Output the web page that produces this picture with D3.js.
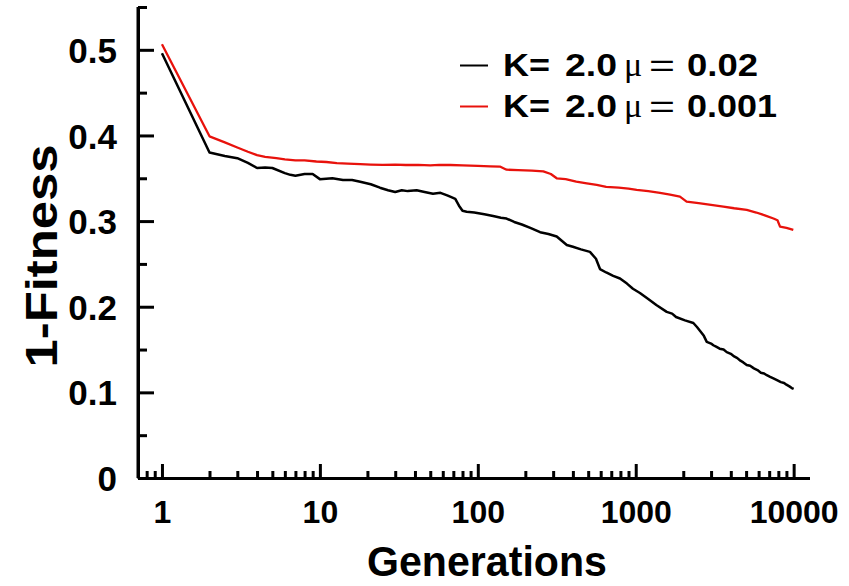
<!DOCTYPE html>
<html>
<head>
<meta charset="utf-8">
<script src="https://cdn.jsdelivr.net/npm/d3@7"></script>
<style>
  html, body { margin: 0; padding: 0; background: #fff; }
  svg { display: block; }
  text { font-family: "Liberation Sans", Arial, Helvetica, sans-serif; font-weight: bold; fill: #000; }
</style>
</head>
<body>
<svg id="chart" width="849" height="586"></svg>
<script>
// ---- data ----
const xMajorTicks = [1, 10, 100, 1000, 10000];
const yMajorTicks = [0, 0.1, 0.2, 0.3, 0.4, 0.5];
const yTickLabels = ["0", "0.1", "0.2", "0.3", "0.4", "0.5"];
const xTickLabels = ["1", "10", "100", "1000", "10000"];

const blackGen = [1, 2, 2.5, 3, 3.5, 4, 4.5, 5, 6, 6.5, 7, 8, 9, 10, 12, 14, 16, 18, 21, 24, 27, 30, 33, 36, 41, 46, 52, 58, 64, 68, 72, 76, 80, 85, 95, 110, 125, 140, 152, 170, 190, 215, 248, 280, 316, 340, 366, 400, 450, 513, 560, 594, 650, 720, 795, 880, 960, 1063, 1200, 1350, 1571, 1700, 1800, 2050, 2317, 2450, 2550, 2700, 2817, 3000, 3100, 3250, 3400, 3600, 3770, 4000, 4200, 4400, 4600, 4800, 5046, 5300, 5600, 5900, 6200, 6500, 6760, 7100, 7500, 7900, 8300, 8700, 9000, 9400, 9730, 10000];
const blackVal = [0.496, 0.380, 0.376, 0.3735, 0.368, 0.362, 0.3625, 0.362, 0.356, 0.354, 0.353, 0.355, 0.355, 0.349, 0.350, 0.348, 0.348, 0.346, 0.343, 0.339, 0.336, 0.334, 0.336, 0.335, 0.336, 0.334, 0.332, 0.333, 0.330, 0.328, 0.326, 0.318, 0.312, 0.311, 0.310, 0.308, 0.306, 0.304, 0.303, 0.299, 0.296, 0.292, 0.287, 0.285, 0.282, 0.277, 0.272, 0.270, 0.267, 0.264, 0.256, 0.244, 0.240, 0.236, 0.233, 0.227, 0.221, 0.216, 0.209, 0.202, 0.194, 0.192, 0.188, 0.184, 0.181, 0.176, 0.172, 0.166, 0.159, 0.157, 0.155, 0.153, 0.151, 0.150, 0.147, 0.145, 0.142, 0.140, 0.137, 0.135, 0.132, 0.131, 0.128, 0.126, 0.123, 0.122, 0.120, 0.118, 0.116, 0.114, 0.112, 0.111, 0.109, 0.107, 0.105, 0.104];

const redGen = [1, 2, 2.5, 3, 3.5, 4, 4.5, 5.3, 6, 7, 8, 9.5, 11, 12.8, 15, 18, 21, 25, 30, 35, 42, 50, 57, 67, 80, 100, 120, 138, 152, 180, 220, 260, 290, 316, 360, 420, 490, 566, 650, 780, 900, 1014, 1200, 1425, 1650, 1906, 2100, 2500, 3000, 3590, 4200, 5046, 5800, 6500, 7450, 7900, 8200, 9000, 9950];
const redVal = [0.5066, 0.399, 0.392, 0.386, 0.381, 0.377, 0.375, 0.3735, 0.372, 0.371, 0.371, 0.3696, 0.369, 0.3676, 0.367, 0.3665, 0.366, 0.3657, 0.366, 0.3655, 0.3657, 0.365, 0.3657, 0.3655, 0.365, 0.3645, 0.364, 0.3637, 0.360, 0.3595, 0.359, 0.358, 0.355, 0.350, 0.349, 0.346, 0.344, 0.3423, 0.340, 0.339, 0.338, 0.3364, 0.335, 0.333, 0.331, 0.3286, 0.3228, 0.321, 0.319, 0.317, 0.315, 0.313, 0.310, 0.307, 0.303, 0.301, 0.2936, 0.292, 0.2897];

const seriesMu = ["0.02", "0.001"];
const seriesMuWidth = [71, 90];
const seriesColors = ["#000000", "#e8120c"];

// ---- scales ----
const svg = d3.select("#chart");
const x = d3.scaleLog().domain([0.7, 12600]).range([137.5, 809.5]);
const y = d3.scaleLinear().domain([0, 0.55]).range([478, 7]);

// minor ticks
const xMinor = [];
[0.1, 1, 10, 100, 1000].forEach(d => { for (let k = 2; k <= 9; k++) { const v = d * k; if (v > 0.75 && v < 12600 && !xMajorTicks.includes(v)) xMinor.push(v); } });
const yMinor = [0.05, 0.15, 0.25, 0.35, 0.45, 0.55];

// ---- axes ----
const axisStyle = g => {
  g.selectAll("path.domain").attr("stroke", "#000").attr("stroke-width", 3);
  g.selectAll(".tick line").attr("stroke", "#000").attr("stroke-width", 3);
};

svg.append("g").attr("transform", "translate(138,0)")
  .call(d3.axisLeft(y).tickValues(yMinor).tickSizeInner(-9).tickSizeOuter(0).tickFormat(""))
  .call(axisStyle);
const gy = svg.append("g").attr("transform", "translate(138,0)")
  .call(d3.axisLeft(y).tickValues(yMajorTicks).tickSizeInner(-16).tickSizeOuter(0)
    .tickFormat((d, i) => yTickLabels[i]))
  .call(axisStyle);
gy.selectAll(".tick text").attr("x", -21).attr("dy", "0.36em")
  .style("font-size", "35px").style("font-family", "'Liberation Sans', Arial, sans-serif").style("font-weight", "bold").attr("fill", "#000");
gy.select("path.domain").attr("d", `M0,${y(0)}V${y(0.55)}`);

svg.append("g").attr("transform", "translate(0,478)")
  .call(d3.axisBottom(x).tickValues(xMinor).tickSizeInner(-7).tickSizeOuter(0).tickFormat(""))
  .call(axisStyle);
const gx = svg.append("g").attr("transform", "translate(0,478)")
  .call(d3.axisBottom(x).tickValues(xMajorTicks).tickSizeInner(-14).tickSizeOuter(0)
    .tickFormat((d, i) => xTickLabels[i]))
  .call(axisStyle);
gx.selectAll(".tick text").attr("y", 45).attr("dy", 0)
  .style("font-size", "32px").style("font-family", "'Liberation Sans', Arial, sans-serif").style("font-weight", "bold").attr("fill", "#000");

// ---- lines ----
const line = d3.line().x(d => x(d[0])).y(d => y(d[1]));
const blackData = blackGen.map((g, i) => [g, blackVal[i]]);
const redData = redGen.map((g, i) => [g, redVal[i]]);

svg.append("path").datum(redData).attr("d", line)
  .attr("fill", "none").attr("stroke", seriesColors[1]).attr("stroke-width", 2.3).attr("stroke-linejoin", "round");
svg.append("path").datum(blackData).attr("d", line)
  .attr("fill", "none").attr("stroke", seriesColors[0]).attr("stroke-width", 2.5).attr("stroke-linejoin", "round");

// ---- axis titles ----
svg.append("text").attr("x", 487).attr("y", 576).attr("text-anchor", "middle")
  .attr("textLength", 240).attr("lengthAdjust", "spacingAndGlyphs")
  .style("font-size", "43px").text("Generations");
svg.append("text").attr("transform", "translate(57,256) rotate(-90)").attr("text-anchor", "middle")
  .attr("textLength", 223).attr("lengthAdjust", "spacingAndGlyphs")
  .style("font-size", "44px").text("1-Fitness");

// ---- legend ----
const legendY = [76, 117];
seriesColors.forEach((c, i) => {
  const by = legendY[i];
  svg.append("line").attr("x1", 460).attr("x2", 488).attr("y1", by - 10.5).attr("y2", by - 10.5)
    .attr("stroke", c).attr("stroke-width", 2);
  const t = svg.append("text").attr("y", by).style("font-size", "32px");
  t.append("tspan").attr("x", 503).attr("textLength", 47).attr("lengthAdjust", "spacingAndGlyphs").text("K=");
  t.append("tspan").attr("x", 565).attr("textLength", 52).attr("lengthAdjust", "spacingAndGlyphs").text("2.0");
  t.append("tspan").attr("x", 624).style("font-family", "'Liberation Serif', 'DejaVu Serif', serif").style("font-weight", "normal").style("font-size", "34px").text("μ");
  t.append("tspan").attr("x", 649).attr("textLength", 26).attr("lengthAdjust", "spacingAndGlyphs").style("font-weight", "normal").text("=");
  t.append("tspan").attr("x", 687).attr("textLength", seriesMuWidth[i]).attr("lengthAdjust", "spacingAndGlyphs").text(seriesMu[i]);
});
</script>
</body>
</html>
